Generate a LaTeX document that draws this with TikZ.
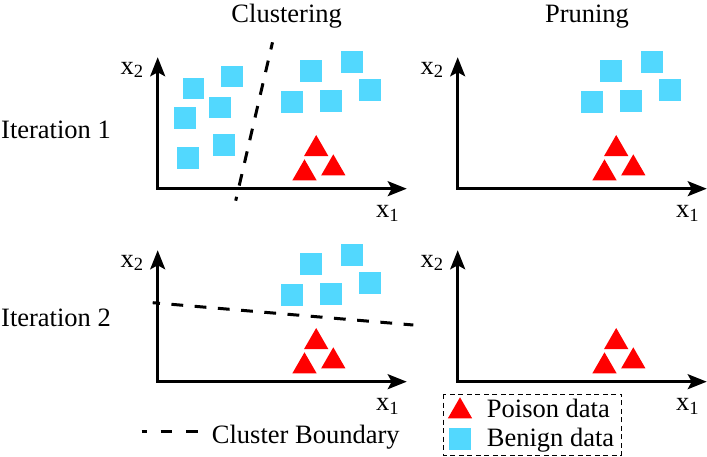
\documentclass[tikz,border=0pt]{standalone}
\usepackage{fontspec}
\setmainfont{Liberation Serif}
\usepackage{tikz}
\usetikzlibrary{arrows.meta, shapes.geometric}
\definecolor{benign}{HTML}{52D8FE}
\definecolor{poison}{HTML}{FF0000}

\begin{document}
\begin{tikzpicture}[x=1pt, y=-1pt, font=\fontsize{26.5}{30}\selectfont,
  >={Stealth[length=19pt, width=15pt, inset=4pt]},
  axis/.style={<->, line width=2.6pt},
  boundary/.style={line width=3pt, dash pattern=on 11.8pt off 11.5pt, dash phase=4.5pt},
  benignsq/.style={rectangle, fill=benign, minimum size=21.7pt, inner sep=0pt},
  poisontri/.style={regular polygon, regular polygon sides=3, fill=poison, minimum size=28pt, inner sep=0pt},
  lbl/.style={anchor=base west, inner sep=0pt}]
  \useasboundingbox (0,0) rectangle (707,456);

  \node[anchor=base, inner sep=0pt] (clust) at (286.7,22.7) {Clustering};
  \node[anchor=base, inner sep=0pt] (prun) at (587,22.7) {Pruning};
  \node[lbl] (it1) at (1,138.3) {Iteration 1};
  \node[lbl] (it2) at (1,326.7) {Iteration 2};

  % axes, labels and poison points of the four panels
  \foreach \p/\dx/\dy in {1/0/0, 2/300/0, 3/0/193, 4/300/193}{
    \begin{scope}[shift={(\dx,\dy)}]
      \coordinate (o\p) at (157.7,188.7);
      \coordinate (y\p) at (157.7,57.3);
      \coordinate (x\p) at (406.7,188.7);
      \draw[axis] (y\p) -- (o\p) -- (x\p);
      \node[lbl] (xa\p) at (376,217.3) {x\textsubscript{1}};
      \node[lbl] (ya\p) at (120.5,74) {x\textsubscript{2}};
      \node[poisontri] (pa\p) at (316.2,149) {};
      \node[poisontri] (pb\p) at (304.5,173.3) {};
      \node[poisontri] (pc\p) at (333.3,168.3) {};
    \end{scope}
  }

  % benign cluster kept after pruning
  \foreach \p/\dx/\dy in {1/0/0, 2/300/0, 3/0/193}{
    \begin{scope}[shift={(\dx,\dy)}]
      \foreach \i/\x/\y in {1/292.3/102.3, 2/310.7/70.7, 3/351.7/62.3, 4/331/101, 5/370/90.3}
        \node[benignsq] (bq\p\i) at (\x,\y) {};
    \end{scope}
  }
  % benign cluster pruned away
  \foreach \i/\x/\y in {1/193.5/88.5, 2/231.7/76.5, 3/185.2/118.2, 4/220.2/107.5, 5/188.3/158.3, 6/224/144.7}
    \node[benignsq] (ba\i) at (\x,\y) {};

  \coordinate (b1s) at (272.5,42.3);
  \coordinate (b1e) at (235.7,200.7);
  \draw[boundary] (b1s) -- (b1e);
  \coordinate (b2s) at (152.7,302.7);
  \coordinate (b2e) at (413.3,325);
  \draw[boundary] (b2s) -- (b2e);

  % legend
  \coordinate (cbs) at (141.7,431.7);
  \coordinate (cbe) at (198.3,431.7);
  \draw[boundary, dash pattern=on 11.6pt off 14pt, dash phase=6.6pt] (cbs) -- (cbe);
  \node[lbl] (cbt) at (211.7,443.3) {Cluster Boundary};

  \draw[line width=1pt, dash pattern=on 5pt off 3.5pt] (443.3,394) rectangle (621.7,455);
  \node[poisontri] (legp) at (460,411.3) {};
  \node[benignsq] (legb) at (460.2,438.8) {};
  \node[lbl] (legpt) at (486.7,417.7) {Poison data};
  \node[lbl] (legbt) at (486.7,446) {Benign data};
\end{tikzpicture}
\end{document}
